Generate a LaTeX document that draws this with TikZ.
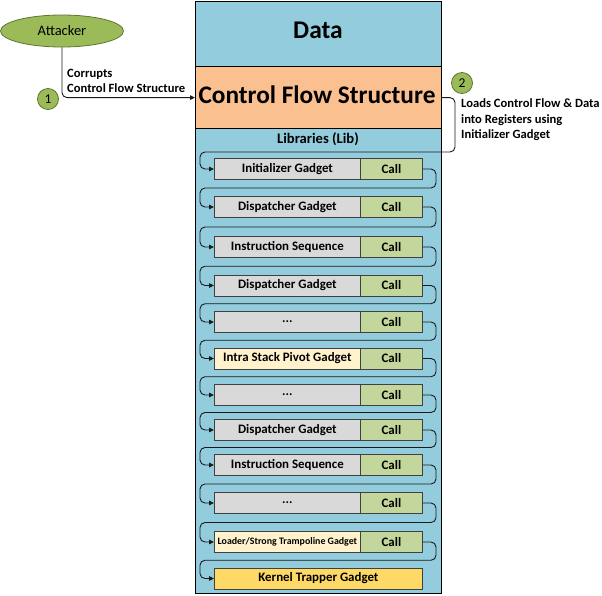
\documentclass[tikz,border=0pt]{standalone}
\usepackage{fontspec}
\setmainfont{Carlito}
\usetikzlibrary{calc,arrows.meta,shapes.geometric}
\definecolor{bandblue}{HTML}{93CDDD}
\definecolor{peach}{HTML}{FAC090}
\definecolor{gadgray}{HTML}{D9D9D9}
\definecolor{callgreen}{HTML}{C3D69B}
\definecolor{intra}{HTML}{FFF2CC}
\definecolor{kernel}{HTML}{FFD966}
\definecolor{atkgreen}{HTML}{9BBB59}
\definecolor{atkline}{HTML}{5E7530}
\newcommand\tdots{...}
\tikzset{
  band/.style={draw=black, line width=1.2pt, minimum width=246pt, inner sep=0pt, anchor=north west},
  gad/.style={draw=black!75, line width=0.8pt, fill=gadgray, minimum width=146pt, minimum height=21pt, inner sep=0pt, anchor=west, font=\bfseries\fontsize{12.9}{13}\selectfont},
  callbox/.style={draw=black!75, line width=0.8pt, fill=callgreen, minimum width=62pt, minimum height=21pt, inner sep=0pt, anchor=west, font=\bfseries\fontsize{12.9}{13}\selectfont},
  flow/.style={draw=black!90, line width=0.9pt, rounded corners=5pt, -{Triangle[length=5pt,width=4.5pt]}},
  numc/.style={circle, draw=atkline, line width=0.8pt, fill=atkgreen, minimum size=21pt, inner sep=0pt, font=\fontsize{13.5}{14}\selectfont},
  note/.style={align=left, anchor=base west, inner sep=0pt, font=\bfseries\fontsize{12.6}{15.5}\selectfont}
}
\begin{document}
\begin{tikzpicture}[x=1pt,y=-1pt]
\useasboundingbox (0,0) rectangle (602,595);
% bands
\node[band, fill=bandblue, minimum height=65pt] (data) at (195,1) {};
\node[anchor=base, font=\bfseries\fontsize{25.5}{27}\selectfont] (datat) at (318,38) {Data};
\node[band, fill=peach, minimum height=62pt] (cfs) at (195,66) {};
\node[anchor=base, font=\bfseries\fontsize{25.3}{27}\selectfont] (cfst) at (317,103) {Control Flow Structure};
\node[band, fill=bandblue, minimum height=465pt] (lib) at (195,128) {};
\node[anchor=base, font=\bfseries\fontsize{14.6}{16}\selectfont] (libt) at (318,143) {Libraries (Lib)};
% attacker
\node[ellipse, draw=atkline, line width=0.8pt, fill=atkgreen, minimum width=123pt, minimum height=32pt, inner sep=0pt, font=\fontsize{14.5}{15}\selectfont] (atk) at (62,31) {Attacker};
\node[numc] (n1) at (48,99) {1};
\node[numc] (n2) at (462,83) {2};
\draw[flow] (atk.south) |- (cfs.west);
\node[note] (t1) at (67,92.8) {Corrupts\\Control Flow Structure};
\node[note] (t2) at (461,138.6) {Loads Control Flow \& Data\\into Registers using\\Initializer Gadget};
% gadgets
\foreach \i/\y/\t/\f in {1/169/Initializer Gadget/gadgray,
  2/207/Dispatcher Gadget/gadgray,
  3/247/Instruction Sequence/gadgray,
  4/285.5/Dispatcher Gadget/gadgray,
  5/322/\tdots/gadgray,
  6/358.5/Intra Stack Pivot Gadget/intra,
  7/395/\tdots/gadgray,
  8/430/Dispatcher Gadget/gadgray,
  9/465/Instruction Sequence/gadgray,
  10/503/\tdots/gadgray}{
  \node[gad, fill=\f] (g\i) at (214,\y) {\t};
  \node[callbox] (c\i) at (360,\y) {Call};
}
\node[gad, fill=intra, font=\bfseries\fontsize{9.9}{10}\selectfont] (g11) at (214,542) {Loader/Strong Trampoline Gadget};
\node[callbox] (c11) at (360,542) {Call};
\node[gad, fill=kernel, minimum width=208pt] (g12) at (214,578.5) {Kernel Trapper Gadget};
% guide coordinates
\coordinate (R) at (436,0);
\coordinate (L) at (200,0);
\coordinate (R2) at (455,0);
\coordinate (m0) at (0,152);
\draw[flow] (cfs.east) -- (cfs.east -| R2) -- (R2 |- m0) -- (L |- m0) -- (L |- g1.west) -- (g1.west);
\foreach \i/\j in {1/2,2/3,3/4,4/5,5/6,6/7,7/8,8/9,9/10,10/11,11/12}{
  \coordinate (m\i) at ($(c\i.south)!0.5!(g\j.north)$);
  \draw[flow] (c\i.east) -- (c\i.east -| R) -- (R |- m\i) -- (L |- m\i) -- (L |- g\j.west) -- (g\j.west);
}
\end{tikzpicture}
\end{document}
